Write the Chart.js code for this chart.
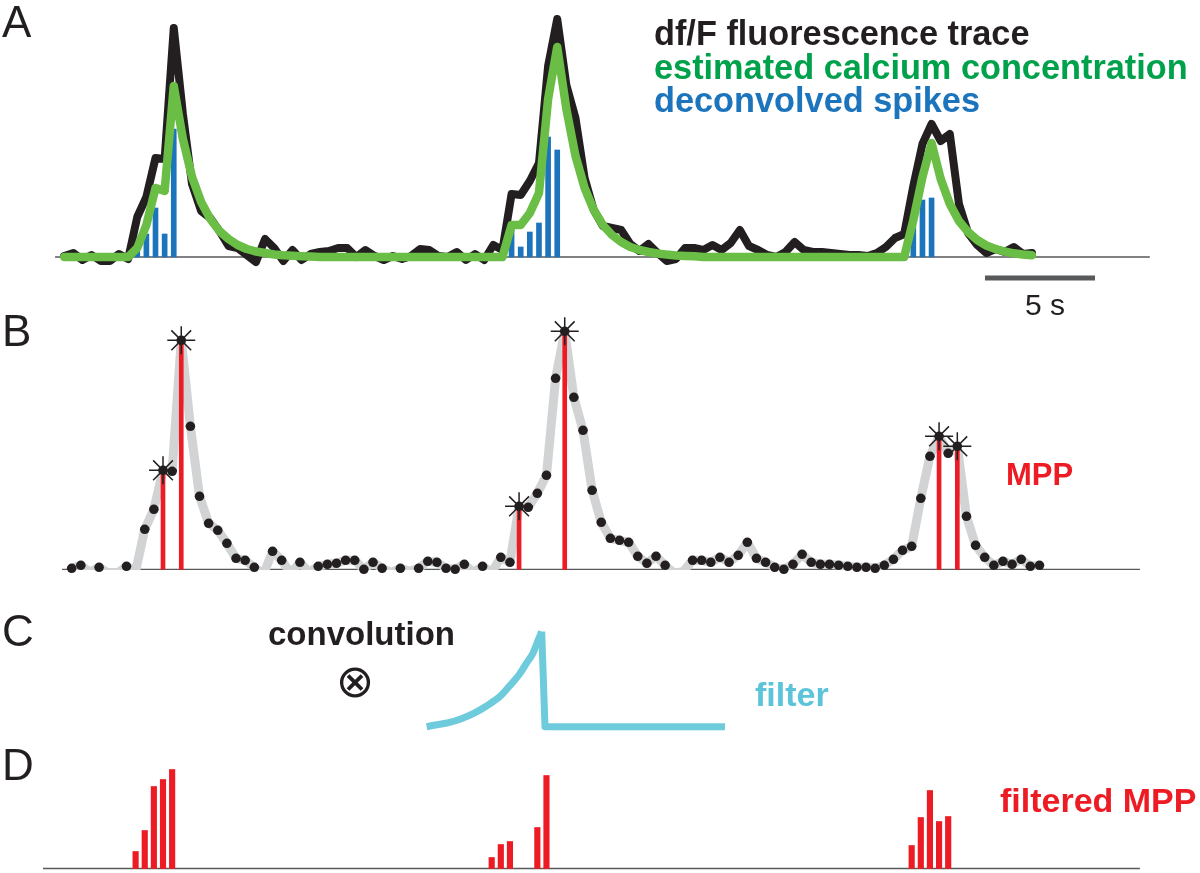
<!DOCTYPE html>
<html>
<head>
<meta charset="utf-8">
<script src="https://cdn.jsdelivr.net/npm/chart.js@4.4.1/dist/chart.umd.min.js"></script>
<style>
  body { margin: 0; background: #fff; width: 1200px; height: 873px; position: relative; overflow: hidden;
         font-family: "Liberation Sans", Arial, sans-serif; }
  canvas { position: absolute; left: 0; }
  .t { position: absolute; line-height: 1; white-space: nowrap; color: #231f20; }
  .b { font-weight: bold; }
</style>
</head>
<body>
<canvas id="chartA" width="1200" height="300" style="top:0"></canvas>
<canvas id="chartB" width="1200" height="275" style="top:300px"></canvas>
<canvas id="chartC" width="1200" height="150" style="top:590px"></canvas>
<canvas id="chartD" width="1200" height="133" style="top:740px"></canvas>

<div class="t" style="left:2px;top:0px;font-size:44px">A</div>
<div class="t" style="left:2px;top:309px;font-size:44px">B</div>
<div class="t" style="left:2px;top:609px;font-size:44px">C</div>
<div class="t" style="left:2px;top:743px;font-size:44px">D</div>

<div class="t b" style="left:654px;top:16px;font-size:34.3px">df/F fluorescence trace</div>
<div class="t b" style="left:654px;top:50px;font-size:34.3px;color:#00a14b">estimated calcium concentration</div>
<div class="t b" style="left:654px;top:83px;font-size:34.3px;color:#1c75bc">deconvolved spikes</div>
<div class="t" style="left:1025px;top:290px;font-size:30px">5 s</div>
<div class="t b" style="left:1006px;top:459px;font-size:31px;color:#ed1c24">MPP</div>
<div class="t b" style="left:268px;top:617px;font-size:33px">convolution</div>
<div class="t" style="left:331px;top:658px;width:48px;text-align:center;font-size:46px;font-family:'DejaVu Sans'">⊗</div>
<div class="t b" style="left:755px;top:677px;font-size:34px;color:#5bc4d8">filter</div>
<div class="t b" style="left:1000px;top:783px;font-size:34px;color:#ed1c24">filtered MPP</div>

<script>
// df/F trace, one value per frame (same recording in A and B)
const dff = [0.01, 0.04, -0.03, 0.02, -0.04, -0.04, 0.03, -0.02, 0.40, 0.60,
  0.99, 0.98, 2.29, 1.43, 0.73, 0.46, 0.39, 0.26, 0.11, 0.09,
  0.02, -0.05, 0.18, 0.09, -0.04, 0.07, -0.03, 0.03, 0.05, 0.06,
  0.09, 0.09, 0.00, 0.07, 0.01, -0.03, 0.01, -0.02, 0.01, 0.08,
  0.07, 0.01, 0.00, 0.05, -0.03, 0.03, -0.03, 0.12, 0.07, 0.63,
  0.62, 0.76, 0.94, 1.91, 2.38, 1.72, 1.39, 0.79, 0.47, 0.31,
  0.29, 0.27, 0.13, 0.06, 0.13, 0.04, -0.04, -0.02, 0.09, 0.09,
  0.07, 0.12, 0.07, 0.14, 0.27, 0.11, 0.07, 0.02, 0.00, 0.05,
  0.15, 0.07, 0.05, 0.05, 0.04, 0.03, 0.02, 0.02, 0.01, 0.04,
  0.10, 0.19, 0.23, 0.71, 1.13, 1.33, 1.16, 1.23, 0.53, 0.24,
  0.12, 0.04, 0.08, 0.05, 0.10, 0.03, 0.04];

// estimated calcium concentration (green)
const calcium = [0, 0, 0, 0, 0, 0, 0, 0,
  0.09, 0.32, 0.69, 0.66, 1.71, 1.18, 0.80, 0.55, 0.38, 0.26, 0.18, 0.12,
  0.08, 0.055, 0.04, 0.025, 0.017, 0.012, 0.008, 0.005,
  0, 0, 0, 0, 0, 0, 0, 0, 0, 0, 0, 0, 0, 0, 0, 0, 0, 0, 0, 0, 0,
  0.32, 0.32, 0.44, 0.64, 1.58, 2.10, 1.48, 1.01, 0.69, 0.47, 0.32, 0.22,
  0.15, 0.10, 0.07, 0.05, 0.035, 0.024, 0.016, 0.011, 0.007,
  0, 0, 0, 0, 0, 0, 0, 0, 0, 0, 0, 0, 0, 0, 0, 0, 0, 0, 0, 0, 0, 0, 0,
  0.37, 0.80, 1.14, 0.78, 0.53, 0.36, 0.25, 0.17, 0.115, 0.08, 0.055, 0.037, 0.025, 0.017];

// deconvolved spikes (blue)
const spikeFrames = [8, 9, 10, 11, 12, 49, 50, 51, 52, 53, 54, 93, 94, 95];
const spikeAmps = [0.09, 0.23, 0.49, 0.23, 1.28, 0.31, 0.10, 0.25, 0.34, 1.20, 1.07, 0.39, 0.57, 0.59];

// MPP frames (stars + red lines)
const mppFrames = [10, 12, 49, 54, 95, 97];

// filtered MPP (panel D)
const filteredFrames = [7, 8, 9, 10, 11, 46, 47, 48, 51, 52, 92, 93, 94, 95, 96];
const filteredAmps = [0.17, 0.38, 0.82, 0.89, 0.99, 0.11, 0.24, 0.27, 0.41, 0.93, 0.23, 0.51, 0.78, 0.47, 0.52];

// filter kernel, lag in frames relative to its peak
const filterLag = [-12.6, -11.5, -10.2, -8.8, -7.5, -6, -4.6, -3.5, -2.4, -1.7, -0.93, -0.5, 0];
const filterRise = [0, 0.02, 0.04, 0.08, 0.13, 0.21, 0.30, 0.41, 0.53, 0.63, 0.74, 0.84, 0.95];
const filterTailLag = [0, 0.36, 20.07];
const filterTail = [0.95, 0, 0];

const frameRate = 2.41;      // frames per second
const scaleBarSeconds = 5;
const scaleBarStart = 100.85; // frame

const INK = '#231f20';
const AXIS = '#58595b';

const pts = (xs, ys) => xs.map((x, i) => ({ x: x, y: ys[i] }));
const trace = ys => ys.map((y, i) => ({ x: i, y: y }));

function baseline(x0, x1) {
  return { data: [{ x: x0, y: 0 }, { x: x1, y: 0 }], borderColor: AXIS, borderWidth: 1.3, pointRadius: 0 };
}

function panel(id, xMin, xMax, yMin, yMax, datasets) {
  return new Chart(document.getElementById(id), {
    type: 'line',
    data: { datasets: datasets },
    options: {
      responsive: false,
      animation: false,
      devicePixelRatio: 1,
      events: [],
      layout: { padding: 0, autoPadding: false },
      plugins: { legend: { display: false }, tooltip: { enabled: false } },
      scales: {
        x: { type: 'linear', min: xMin, max: xMax, display: false, offset: false },
        y: { type: 'linear', min: yMin, max: yMax, display: false }
      }
    }
  });
}

// A: df/F, calcium, spikes
panel('chartA', -7.032, 124.40, -0.43, 2.57, [
  { data: trace(calcium), borderColor: '#6abd45', borderWidth: 8.5, pointRadius: 0,
    borderJoinStyle: 'round', borderCapStyle: 'round' },
  { type: 'bar', data: pts(spikeFrames, spikeAmps), backgroundColor: '#1c75bc', barThickness: 5 },
  { data: trace(dff), borderColor: INK, borderWidth: 8, pointRadius: 0,
    borderJoinStyle: 'round', borderCapStyle: 'round' },
  { data: [{ x: scaleBarStart, y: -0.21 }, { x: scaleBarStart + scaleBarSeconds * frameRate, y: -0.21 }],
    borderColor: AXIS, borderWidth: 5, pointRadius: 0 },
  baseline(-1.0, 118.9)
]);

// B: samples, MPP
panel('chartB', -7.853, 123.58, -0.057, 2.693, [
  { data: mppFrames.map(i => ({ x: i, y: dff[i] })), showLine: false, pointStyle: 'star',
    pointRadius: 14, pointBorderWidth: 1.5, pointBorderColor: INK, clip: false },
  { data: trace(dff), showLine: false, pointRadius: c => (c.raw && c.raw.y < 0 ? 0 : 4.8),
    pointBackgroundColor: INK, pointBorderWidth: 0, clip: false },
  { type: 'bar', data: mppFrames.map(i => ({ x: i, y: dff[i] })), backgroundColor: '#ed1c24', barThickness: 4 },
  { data: trace(dff), borderColor: '#d1d3d4', borderWidth: 9, pointRadius: 0,
    borderJoinStyle: 'round', clip: { left: 20, top: 20, right: 20, bottom: -5 } },
  baseline(-1.06, 117.0)
]);

// C: filter kernel
panel('chartC', -59.33, 72.10, -0.133, 1.367, [
  { data: pts(filterLag, filterRise), borderColor: '#6dcbdc', borderWidth: 7, pointRadius: 0,
    cubicInterpolationMode: 'monotone', borderCapStyle: 'butt' },
  { data: pts(filterTailLag, filterTail), borderColor: '#6dcbdc', borderWidth: 7, pointRadius: 0,
    borderJoinStyle: 'round', borderCapStyle: 'butt' }
]);

// D: filtered MPP
panel('chartD', -7.853, 123.58, -0.045, 1.285, [
  { type: 'bar', data: pts(filteredFrames, filteredAmps), backgroundColor: '#ed1c24', barThickness: 5.5 },
  baseline(-3.14, 117.0)
]);
</script>
</body>
</html>
